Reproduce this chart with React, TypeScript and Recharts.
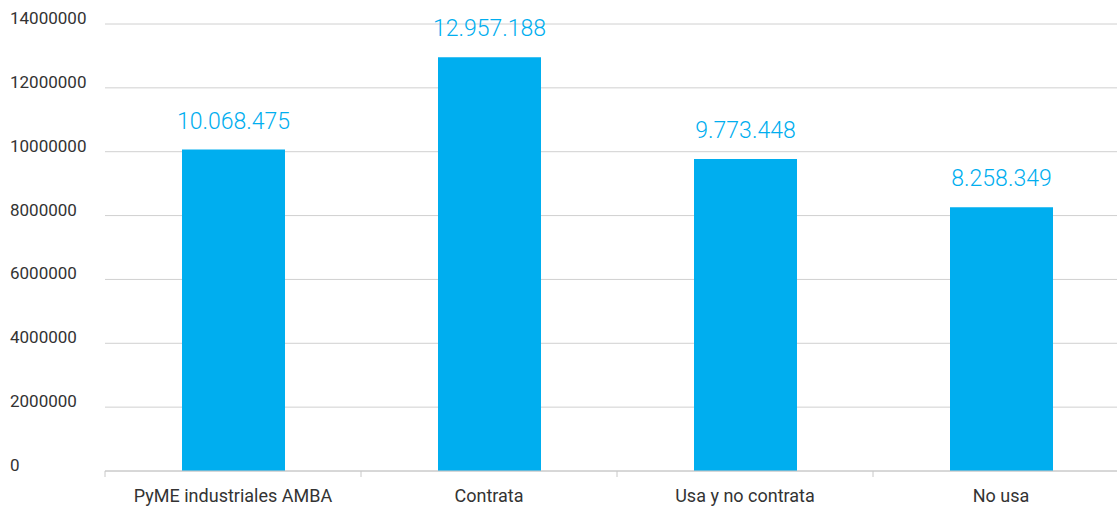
import React from 'react';
import { BarChart, Bar, XAxis, YAxis, CartesianGrid, LabelList } from 'recharts';

const categories = ['PyME industriales AMBA', 'Contrata', 'Usa y no contrata', 'No usa'];
const salaryValues = [10068475, 12957188, 9773448, 8258349];
const yTicks = [0, 2000000, 4000000, 6000000, 8000000, 10000000, 12000000, 14000000];

const data = categories.map((name, i) => ({ name, value: salaryValues[i] }));

const FONT = 'Roboto, "Noto Sans", sans-serif';

const formatDots = (v: number) => String(Math.round(v)).replace(/\B(?=(\d{3})+(?!\d))/g, '.');

const YTick = ({ y, payload }: any) => (
  <text x={10} y={y} textAnchor="start" fill="#333" fontSize={17} fontFamily={FONT}>
    {payload.value}
  </text>
);

const XTick = ({ x, y, payload, width }: any) => {
  const band = width / categories.length;
  const left = x - band / 2;
  return (
    <g>
      <line x1={left} y1={y - 8} x2={left} y2={y - 2} stroke="#c8c8c8" />
      <text x={x} y={y + 23} textAnchor="middle" fill="#333" fontSize={18} fontFamily={FONT}>
        {payload.value}
      </text>
    </g>
  );
};

export default function App() {
  return (
    <div style={{ position: 'absolute', left: 0, top: 0, width: 1117, height: 511, overflow: 'hidden', background: '#fff' }}>
      <BarChart width={1129} height={511} data={data} margin={{ top: 24, right: 0, bottom: 0, left: 0 }}>
        <CartesianGrid vertical={false} stroke="#d0d0d0" />
        <XAxis
          dataKey="name"
          axisLine={{ stroke: '#c8c8c8' }}
          tickLine={false}
          tick={<XTick />}
          height={40}
          interval={0}
        />
        <YAxis
          width={105}
          domain={[0, 14000000]}
          ticks={yTicks}
          axisLine={false}
          tickLine={false}
          tick={<YTick />}
        />
        <Bar dataKey="value" fill="#00AEEF" barSize={103} isAnimationActive={false}>
          <LabelList
            dataKey="value"
            position="top"
            offset={21}
            formatter={(v: any) => formatDots(Number(v))}
            fill="#00AEEF"
            fontSize={23}
            fontFamily={FONT}
            fontWeight={300}
          />
        </Bar>
      </BarChart>
    </div>
  );
}
